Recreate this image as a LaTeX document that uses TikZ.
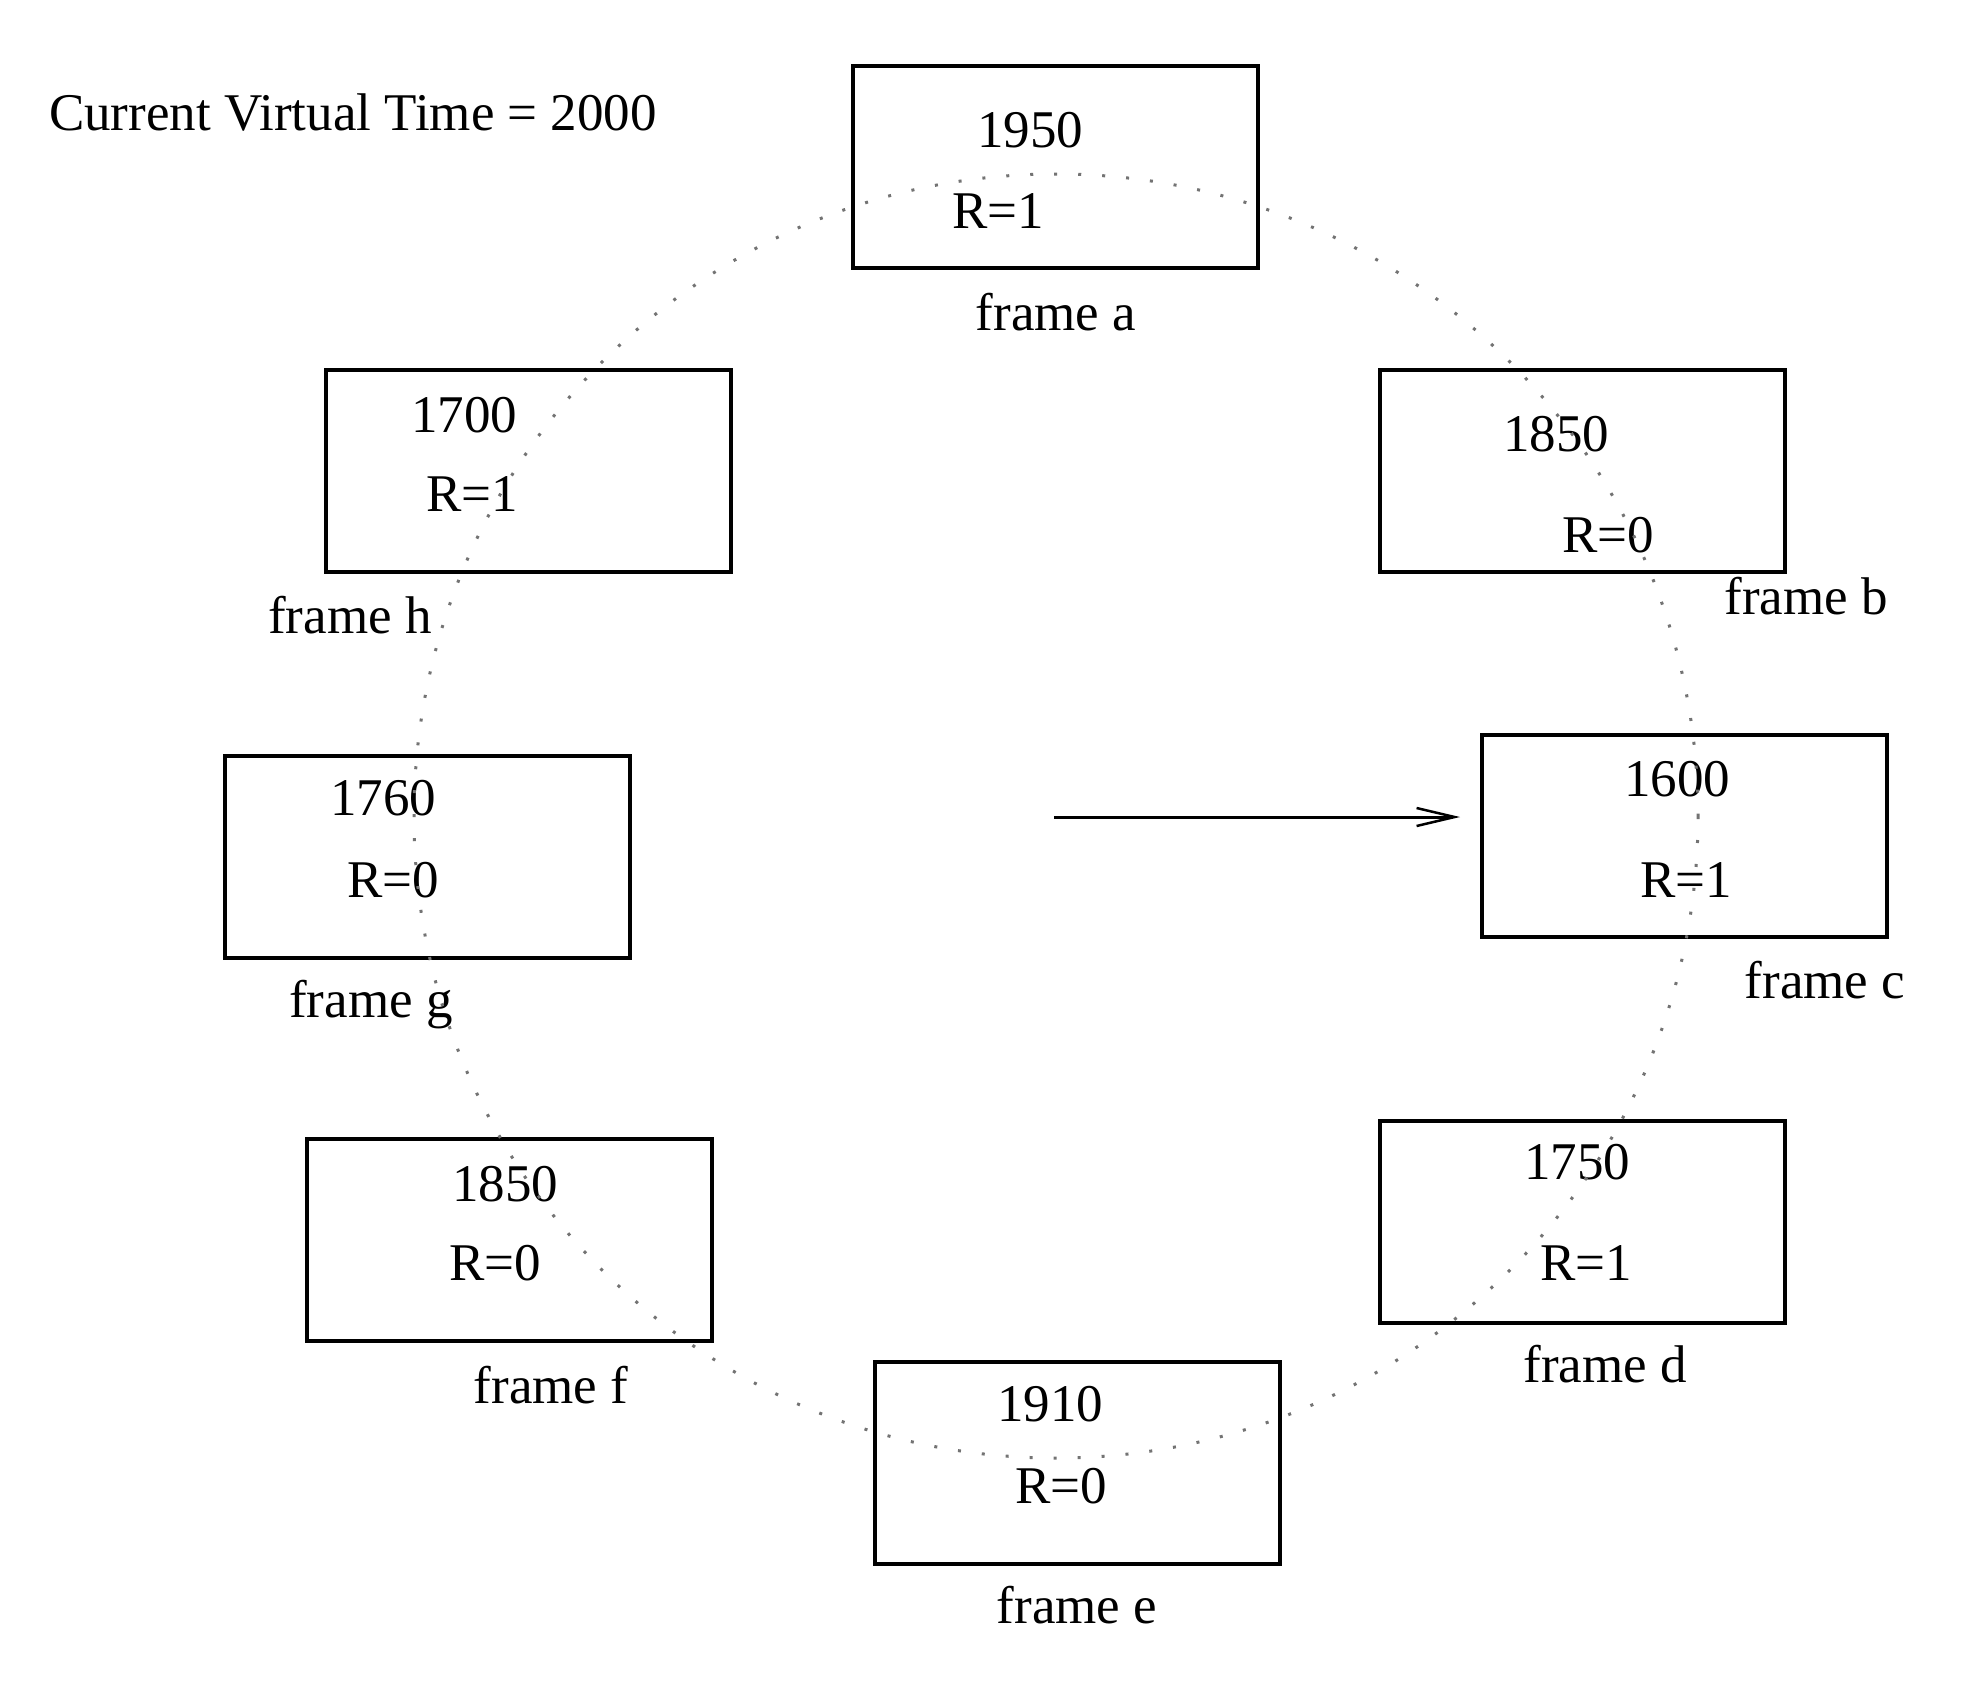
\documentclass[tikz,border=0pt]{standalone}
\usepackage{fontspec}
\setmainfont{Liberation Serif}
\usetikzlibrary{arrows.meta}
\begin{document}
\begin{tikzpicture}[x=1pt,y=-1pt,
  lbl/.style={anchor=base,inner sep=0pt,font=\fontsize{53}{60}\selectfont},
  framebox/.style={draw,line width=4pt,minimum width=405pt,minimum height=202pt,inner sep=0pt},
  dotline/.style={line width=3pt,black!55,dash pattern=on 3pt off 21pt},
  ptr/.style={line width=3pt,-{Straight Barb[length=38pt,width=18pt,line width=2.5pt]}}]
\useasboundingbox (0,0) rectangle (1986,1684);

\node[lbl] (title) at (353,130) {Current Virtual Time = 2000};

% frame a
\node[framebox] (boxA) at (1055,167) {};
\node[lbl] (tA) at (1030,147) {1950};
\node[lbl] (rA) at (998,228) {R=1};
\node[lbl] (fA) at (1056,330) {frame a};
% frame b
\node[framebox] (boxB) at (1582,471) {};
\node[lbl] (tB) at (1556,451) {1850};
\node[lbl] (rB) at (1608,552) {R=0};
\node[lbl] (fB) at (1806,614) {frame b};
% frame c
\node[framebox] (boxC) at (1684,835.5) {};
\node[lbl] (tC) at (1677,796) {1600};
\node[lbl] (rC) at (1686,897) {R=1};
\node[lbl] (fC) at (1825,998) {frame c};
% frame d
\node[framebox] (boxD) at (1582.5,1221.5) {};
\node[lbl] (tD) at (1577,1179) {1750};
\node[lbl] (rD) at (1586,1280) {R=1};
\node[lbl] (fD) at (1605,1382) {frame d};
% frame e
\node[framebox] (boxE) at (1077,1463) {};
\node[lbl] (tE) at (1050,1421) {1910};
\node[lbl] (rE) at (1061,1503) {R=0};
\node[lbl] (fE) at (1077,1623) {frame e};
% frame f
\node[framebox] (boxF) at (509.5,1240) {};
\node[lbl] (tF) at (505,1201) {1850};
\node[lbl] (rF) at (495,1280) {R=0};
\node[lbl] (fF) at (551,1403) {frame f};
% frame g
\node[framebox] (boxG) at (427,857) {};
\node[lbl] (tG) at (383,815) {1760};
\node[lbl] (rG) at (393,897) {R=0};
\node[lbl] (fG) at (371,1017) {frame g};
% frame h
\node[framebox] (boxH) at (528,470.5) {};
\node[lbl] (tH) at (464,432) {1700};
\node[lbl] (rH) at (472,511) {R=1};
\node[lbl] (fH) at (350,633) {frame h};

% dotted ring
\coordinate (ctr) at (1056,816);
\draw[dotline] (ctr) circle[radius=642];

% pointer
\coordinate (pstart) at (1054,817);
\coordinate (pend) at (1460,817);
\draw[ptr] (pstart) -- (pend);
\end{tikzpicture}
\end{document}
